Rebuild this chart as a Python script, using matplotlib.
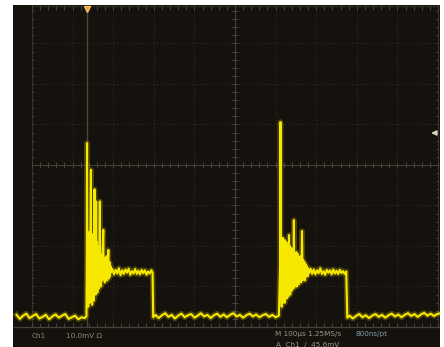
import numpy as np
import matplotlib
matplotlib.use("Agg")
import matplotlib.pyplot as plt

# ---- data (time in microseconds, voltage in mV) ----
base1_t = [-38, -30, -22, -14, -6, 2, 10, 18, 26, 34, 42, 50, 58, 66, 74, 82, 90, 98, 106, 114, 122, 130, 134]
base1_v = [-37.0, -38.0, -37.2, -36.7, -37.8, -37.3, -36.8, -37.9, -37.5, -37.0, -38.1, -37.4, -36.9, -37.7,
           -37.2, -36.8, -38.0, -37.6, -37.2, -38.1, -37.6, -37.8, -37.3]

ring1_t = [135.0, 135.5, 136.5, 137.5, 138.5, 139.5, 140.5, 141.5, 142.5, 143.5,
           145, 146, 147, 148, 149, 150, 151, 152, 153, 154, 155, 156, 157, 158, 159, 160, 161, 162, 163, 164,
           165, 166, 167, 168, 169, 170, 171,
           172.5, 174.0, 175.5, 176.5, 177.5, 179.0, 180.5, 182.0, 183.5, 185.0, 186.5, 188.0, 189.5, 191.0,
           192.0, 193.5, 195.0]
ring1_v = [-22.0, 5.4, -31.0, -18.0, -35.0, -19.5, -33.0, -16.5, -34.0, -21.0,
           -1.2, -32.0, -17.0, -34.5, -20.0, -31.0, -17.5, -33.5, -21.0, -6.0,
           -30.0, -18.5, -32.0, -9.0, -29.5, -19.0, -31.5, -22.0, -29.0, -20.0,
           -30.5, -21.5, -9.0, -29.0, -22.0, -30.0, -23.0,
           -28.5, -21.0, -16.0, -28.0, -23.0, -29.0, -24.0, -28.0, -22.5, -28.5,
           -24.5, -21.0, -28.0, -24.0, -27.5, -25.0, -26.5]

plat1_t = [198, 202, 206, 210, 214, 218, 222, 226, 230, 234, 238, 242, 246, 250, 254, 258, 262, 266, 270,
           274, 278, 282, 286, 290, 294, 297]
plat1_v = [-25.7, -27.0, -25.9, -26.8, -25.5, -27.2, -26.0, -26.9, -25.8, -26.6, -25.6, -27.1, -26.2, -26.8,
           -25.7, -26.9, -26.1, -27.0, -25.9, -26.7, -26.0, -27.1, -26.3, -26.8, -26.0, -26.6]

base2_t = [298.5, 304, 312, 320, 328, 336, 344, 352, 360, 368, 376, 384, 392, 400, 408, 416, 424, 432, 440,
           448, 456, 464, 472, 480, 488, 496, 504, 512, 520, 528, 536, 544, 552, 560, 568, 576, 584, 592,
           600, 608]
base2_v = [-37.6, -37.0, -37.8, -37.1, -36.6, -37.5, -37.0, -37.9, -37.2, -36.7,
           -37.6, -37.1, -36.8, -37.7, -37.2, -36.6, -37.4, -37.0, -37.8, -37.1,
           -36.7, -37.5, -36.9, -37.6, -37.0, -36.6, -37.4, -37.0, -37.7, -37.1,
           -36.7, -37.4, -36.9, -37.6, -37.1, -36.8, -37.5, -37.0, -37.6, -37.2]

ring2_t = [611, 612, 613, 614, 615, 616, 617, 618, 619, 620, 621, 622, 623, 624, 625, 626, 627, 628, 629,
           630, 631, 632, 633, 634, 635, 636, 637, 638, 639, 640, 641, 642, 643, 644, 645, 646, 647, 648,
           649, 650, 651, 652, 653, 654, 655,
           656.5, 658.0, 659.5, 661.0, 662.5, 664.0, 665.0, 666.5, 668.0, 669.5, 671.0, 672.5, 674.0,
           675.5, 677.0, 678.5, 680.0, 682.0]
ring2_v = [-25.0, 10.6, -33.0, -20.0, -35.0, -19.0, -33.5, -18.0, -34.0, -21.0,
           -32.0, -18.5, -34.0, -20.0, -31.5, -19.0, -33.0, -21.0, -30.0, -19.5,
           -32.5, -22.0, -17.3, -31.0, -20.0, -32.0, -22.5, -30.0, -20.5, -31.0,
           -22.0, -29.5, -21.0, -30.5, -13.6, -29.0, -22.0, -30.0, -23.0, -29.0,
           -21.5, -30.0, -23.5, -28.5, -22.0,
           -29.5, -23.0, -28.5, -22.5, -29.0, -24.0, -16.3, -28.5, -23.5, -28.0,
           -24.0, -28.5, -24.5, -27.5, -25.0, -27.5, -25.5, -26.8]

plat2_t = [686, 690, 694, 698, 702, 706, 710, 714, 718, 722, 726, 730, 734, 738, 742, 746, 750, 754, 758,
           762, 766, 770, 774]
plat2_v = [-25.6, -26.9, -25.8, -27.0, -26.0, -26.7, -25.5, -26.9, -26.2, -27.1, -25.9, -26.6, -26.0,
           -27.0, -25.8, -26.8, -26.1, -26.9, -25.9, -26.7, -26.2, -26.9, -26.3]

base3_t = [776.5, 782, 790, 798, 806, 814, 822, 830, 838, 846, 854, 862, 870, 878, 886, 894, 902, 910, 918,
           926, 934, 942, 950, 958, 966, 974, 982, 990, 998, 1006]
base3_v = [-37.7, -37.2, -37.9, -37.3, -36.8, -37.6, -37.1, -37.8, -37.2, -36.8, -37.5, -37.0, -37.7,
           -37.1, -36.7, -37.4, -36.9, -37.6, -37.0, -36.6, -37.3, -36.8, -37.5, -36.9, -36.5, -37.2,
           -36.7, -37.3, -36.8, -36.6]

trigger_pos_t = 133
trigger_level_v = 7.9

readout_ch = "Ch1"
readout_scale = "10.0mV \u03a9"
readout_time = "M 100\u00b5s 1.25MS/s"
readout_rec = "800ns/pt"
readout_trig = "A  Ch1  \u2215  45.6mV"

# ---- figure ----
W, H = 444, 347
fig = plt.figure(figsize=(W / 100, H / 100), dpi=100, facecolor="white")
ax = fig.add_axes([13 / W, 0, 427 / W, 342 / H])
bg = "#15110d"
ax.set_facecolor(bg)
ax.set_xlim(-46.8, 1004.9)
ax.set_ylim(-44.94, 39.5)
for s in ax.spines.values():
    s.set_visible(False)
ax.set_xticks([])
ax.set_yticks([])

# graticule (faint)
grid_c = "#2f2b26"
ctr_c = "#47443d"
xs = np.arange(0, 1001, 100)
ys = np.arange(-40, 41, 10)
ax.vlines(xs, -40, 40, colors=grid_c, linestyles=(0, (1, 2.2)), lw=0.8, zorder=1)
ax.hlines(ys, 0, 1000, colors=grid_c, linestyles=(0, (1, 2.2)), lw=0.8, zorder=1)
ax.hlines([39.3], 0, 1000, colors="#2c2925", lw=1.0, zorder=1)
ax.hlines([-40], -46.8, 1004.9, colors="#45423b", lw=0.9, zorder=1)
ax.vlines([0, 1000], -40, 40, colors="#36332d", lw=0.8, zorder=1)
ax.hlines([0], 0, 1000, colors=ctr_c, lw=0.7, zorder=1)
ax.vlines([500], -40, 40, colors=ctr_c, lw=0.7, zorder=1)
tx = np.arange(0, 1001, 20)
ty = np.arange(-40, 41, 2)
ax.vlines(tx, -0.8, 0.8, colors=ctr_c, lw=0.7, zorder=1)
ax.hlines(ty, 493, 507, colors=ctr_c, lw=0.7, zorder=1)
ax.vlines(tx, -40, -39.0, colors=ctr_c, lw=0.7, zorder=1)
ax.vlines(tx, 38.3, 39.3, colors=ctr_c, lw=0.7, zorder=1)
ax.hlines(ty, 0, 6, colors=ctr_c, lw=0.7, zorder=1)
ax.hlines(ty, 994, 1000, colors=ctr_c, lw=0.7, zorder=1)

# faint trigger position line
ax.vlines([trigger_pos_t + 3], -40, 39.3, colors="#4a4636", lw=1.0, zorder=2)

# trace
t = base1_t + ring1_t + plat1_t + base2_t + ring2_t + plat2_t + base3_t
v = base1_v + ring1_v + plat1_v + base2_v + ring2_v + plat2_v + base3_v
ax.plot(t, v, color="#8f8200", lw=4.0, alpha=0.45, zorder=3, solid_joinstyle="round")
ax.plot(t, v, color="#f7e800", lw=1.5, zorder=4, solid_joinstyle="round")

# trigger position marker
ax.plot([trigger_pos_t + 2], [38.6], marker="v", color="#f0a030", markersize=5,
        markeredgecolor="#f8c060", clip_on=False, zorder=6)

# trigger level arrow
ax.annotate("", xy=(976, trigger_level_v), xytext=(1002, trigger_level_v),
            arrowprops=dict(arrowstyle="-|>", color="#d8d4b8", lw=1.2, mutation_scale=7),
            zorder=6)

# readouts
tc = "#8c8a74"
fig.text(32 / W, 1 - 336 / H, readout_ch, color=tc, fontsize=5.2, va="center", ha="left")
fig.text(66 / W, 1 - 336 / H, readout_scale, color=tc, fontsize=5.2, va="center", ha="left")
fig.text(275 / W, 1 - 334 / H, readout_time, color="#9a9888", fontsize=5.2, va="center", ha="left")
fig.text(355 / W, 1 - 334 / H, readout_rec, color="#7f9ea6", fontsize=5.2, va="center", ha="left")
fig.text(276 / W, 1 - 344 / H, readout_trig, color="#9a9888", fontsize=5.2, va="center", ha="left")

fig.savefig("out.png", dpi=100, facecolor="white")
